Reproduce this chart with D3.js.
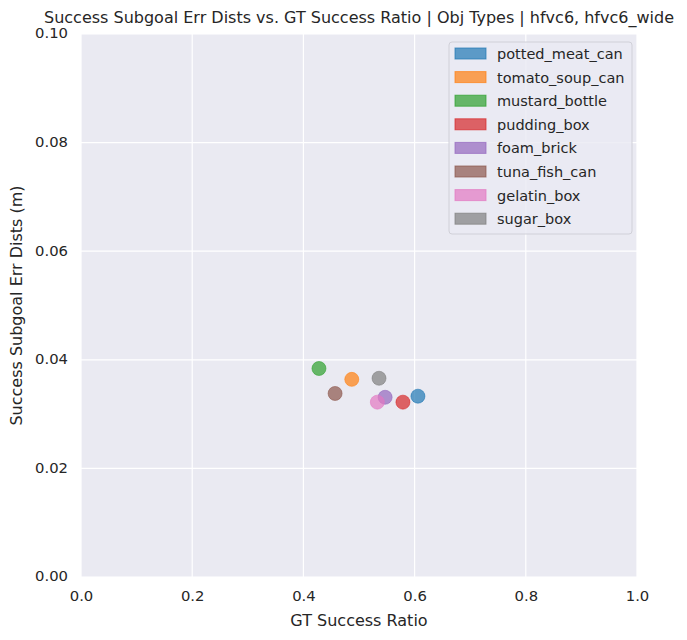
<!DOCTYPE html>
<html>
<head>
<meta charset="utf-8">
<script src="https://cdn.jsdelivr.net/npm/d3@7"></script>
<style>
  body { margin: 0; background: white; }
  text { font-family: "DejaVu Sans", sans-serif; fill: #262626; }
</style>
</head>
<body>
<div class="chart"></div>
<script>
const width = 687
const height = 640

// one point per object type
const objTypes = ["potted_meat_can", "tomato_soup_can", "mustard_bottle", "pudding_box",
  "foam_brick", "tuna_fish_can", "gelatin_box", "sugar_box"];
const successRatio = [0.606, 0.487, 0.428, 0.579, 0.547, 0.457, 0.533, 0.536];
const errDists = [0.0333, 0.0364, 0.0384, 0.0322, 0.0331, 0.0338, 0.0322, 0.0366];
const palette = ["#1f77b4", "#ff7f0e", "#2ca02c", "#d62728", "#9467bd", "#8c564b", "#e377c2", "#7f7f7f"];
const xTicks = [0, 0.2, 0.4, 0.6, 0.8, 1.0];
const yTicks = [0, 0.02, 0.04, 0.06, 0.08, 0.10];

const margin = {top: 34, right: 50, bottom: 63, left: 81};

const x = d3.scaleLinear().domain([0, 1]).range([margin.left, width - margin.right]);
const y = d3.scaleLinear().domain([0, 0.1]).range([height - margin.bottom, margin.top]);
const color = d3.scaleOrdinal().domain(objTypes).range(palette);

const svg = d3.create("svg")
  .attr("width", width)
  .attr("height", height);

svg.append("rect")
  .attr("x", x(0)).attr("y", y(0.1))
  .attr("width", x(1) - x(0)).attr("height", y(0) - y(0.1))
  .attr("fill", "#eaeaf2");

// grid
svg.append("g")
  .selectAll("line")
  .data(xTicks)
  .join("line")
  .attr("x1", d => x(d)).attr("x2", d => x(d))
  .attr("y1", y(0)).attr("y2", y(0.1))
  .attr("stroke", "white").attr("stroke-width", 1.2);

svg.append("g")
  .selectAll("line")
  .data(yTicks)
  .join("line")
  .attr("x1", x(0)).attr("x2", x(1))
  .attr("y1", d => y(d)).attr("y2", d => y(d))
  .attr("stroke", "white").attr("stroke-width", 1.2);

// axes, no domain/ticks lines like seaborn darkgrid
const xAxis = svg.append("g")
  .attr("transform", `translate(0,${y(0)})`)
  .call(d3.axisBottom(x).tickValues(xTicks).tickFormat(d3.format(".1f")).tickSize(0).tickPadding(13));
const yAxis = svg.append("g")
  .attr("transform", `translate(${x(0)},0)`)
  .call(d3.axisLeft(y).tickValues(yTicks).tickFormat(d3.format(".2f")).tickSize(0).tickPadding(13));
[xAxis, yAxis].forEach(g => {
  g.select(".domain").remove();
  g.selectAll("text").style("font-size", "14.8px").attr("fill", "#262626")
    .style("font-family", "'DejaVu Sans', sans-serif");
});
yAxis.selectAll("text").attr("dy", "0.26em");

// points
const pts = objTypes.map((name, i) => ({name: name, sr: successRatio[i], err: errDists[i]}));
svg.append("g")
  .selectAll("circle")
  .data(pts)
  .join("circle")
  .attr("cx", d => x(d.sr))
  .attr("cy", d => y(d.err))
  .attr("r", 7)
  .attr("fill", d => color(d.name))
  .attr("fill-opacity", 0.7)
  .attr("stroke", d => color(d.name))
  .attr("stroke-opacity", 0.7)
  .attr("stroke-width", 0.8);

// legend
const lg = svg.append("g").attr("transform", "translate(449,42)");
lg.append("rect")
  .attr("width", 183).attr("height", 192)
  .attr("rx", 3)
  .attr("fill", "#eaeaf2").attr("fill-opacity", 0.8)
  .attr("stroke", "#d0d0d8");
const rows = lg.selectAll("g.row")
  .data(objTypes)
  .join("g")
  .attr("class", "row")
  .attr("transform", (d, i) => `translate(0,${12 + i * 23.6})`);
rows.append("rect")
  .attr("x", 6).attr("y", -6)
  .attr("width", 31).attr("height", 11)
  .attr("fill", d => color(d)).attr("fill-opacity", 0.7)
  .attr("stroke", d => color(d)).attr("stroke-opacity", 0.7);
rows.append("text")
  .attr("x", 48).attr("y", 0)
  .attr("dy", "0.35em")
  .style("font-size", "14.5px")
  .text(d => d);

svg.append("text")
  .attr("x", (x(0) + x(1)) / 2).attr("y", 23)
  .attr("text-anchor", "middle")
  .style("font-size", "16px")
  .text("Success Subgoal Err Dists vs. GT Success Ratio | Obj Types | hfvc6, hfvc6_wide");

svg.append("text")
  .attr("x", (x(0) + x(1)) / 2).attr("y", 626)
  .attr("text-anchor", "middle")
  .style("font-size", "16px")
  .text("GT Success Ratio");

svg.append("text")
  .attr("transform", `translate(22,${(y(0) + y(0.1)) / 2}) rotate(-90)`)
  .attr("text-anchor", "middle")
  .style("font-size", "16px")
  .text("Success Subgoal Err Dists (m)");

document.querySelector(".chart").append(svg.node());
</script>
</body>
</html>
